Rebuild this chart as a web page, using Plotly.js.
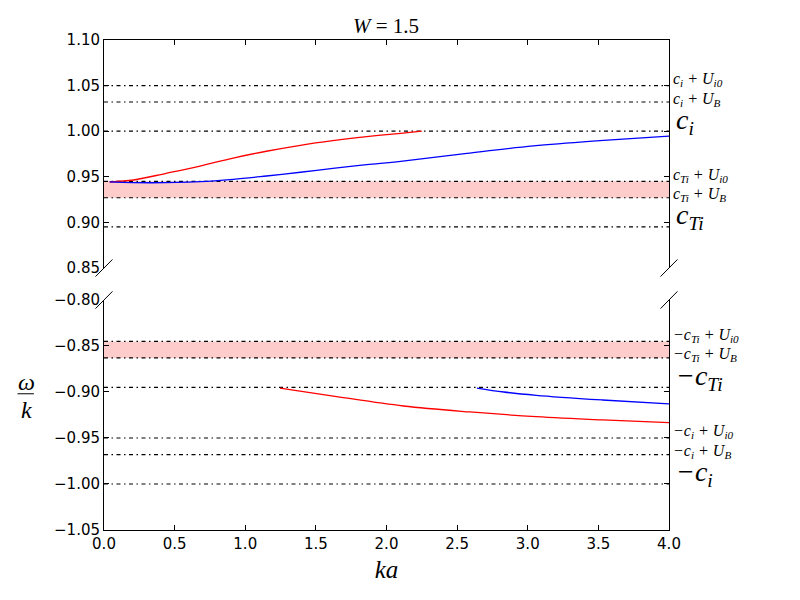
<!DOCTYPE html>
<html>
<head>
<meta charset="utf-8">
<script src="https://cdn.plot.ly/plotly-3.0.1.min.js"></script>
<style>html,body{margin:0;padding:0;background:#fff;}#chart{width:800px;height:600px;}</style>
</head>
<body>
<div id="chart"></div>
<script>
// Characteristic speeds
var ci = 1.0;
var cTi = 0.895;
var Ui0 = 0.05;
var UB = 0.032;
var kaRange = [0, 4];

// Top panel curves (positive branch)
var redTopKa = [0.04, 0.21, 0.44, 0.68, 0.915, 1.15, 1.39, 1.62, 1.86, 2.10, 2.25];
var redTopW  = [0.9443, 0.9465, 0.9538, 0.9618, 0.9706, 0.978, 0.9845, 0.9896, 0.994, 0.9977, 1.0];
var blueTopKa = [0.04, 0.33, 0.68, 0.915, 1.15, 1.39, 1.62, 1.86, 2.10, 2.57, 3.04, 3.51, 4.0];
var blueTopW  = [0.9445, 0.9435, 0.9446, 0.9472, 0.9509, 0.955, 0.9593, 0.9633, 0.967, 0.9757, 0.9838, 0.9896, 0.9947];

// Bottom panel curves (negative branch)
var redBotKa = [1.246, 1.647, 2.12, 2.59, 3.06, 3.53, 4.0];
var redBotW  = [-0.8957, -0.905, -0.9152, -0.9217, -0.9268, -0.9304, -0.9333];
var blueBotKa = [2.64, 2.83, 3.06, 3.53, 4.0];
var blueBotW  = [-0.8957, -0.9, -0.9036, -0.9087, -0.913];

// Reference line levels and labels
var topLevels = [ci + Ui0, ci + UB, ci, cTi + Ui0, cTi + UB, cTi];
var topLabels = ['c<sub>i</sub> + U<sub>i0</sub>', 'c<sub>i</sub> + U<sub>B</sub>', 'c<sub>i</sub>',
                 'c<sub>Ti</sub> + U<sub>i0</sub>', 'c<sub>Ti</sub> + U<sub>B</sub>', 'c<sub>Ti</sub>'];
var botLevels = [-cTi + Ui0, -cTi + UB, -cTi, -ci + Ui0, -ci + UB, -ci];
var botLabels = ['−c<sub>Ti</sub> + U<sub>i0</sub>', '−c<sub>Ti</sub> + U<sub>B</sub>', '−c<sub>Ti</sub>',
                 '−c<sub>i</sub> + U<sub>i0</sub>', '−c<sub>i</sub> + U<sub>B</sub>', '−c<sub>i</sub>'];
var bigLabel = [false, false, true, false, false, true];
var labelShift = [6, 3, 10, 6, 3, 10];

var mathFont = 'Liberation Serif, DejaVu Serif, serif';
var tickFont = {family: 'DejaVu Sans, sans-serif', size: 15, color: '#000'};
var dashPat = '4px,3.5px,1.5px,3.5px';

var traces = [];
// pink bands
traces.push({x: kaRange, y: [cTi + UB, cTi + UB], xaxis: 'x2', yaxis: 'y2', mode: 'lines',
  line: {width: 0, color: 'rgba(0,0,0,0)'}, hoverinfo: 'skip', showlegend: false});
traces.push({x: kaRange, y: [cTi + Ui0, cTi + Ui0], xaxis: 'x2', yaxis: 'y2', mode: 'lines', fill: 'tonexty',
  fillcolor: 'rgba(255,0,0,0.2)', line: {width: 0, color: 'rgba(0,0,0,0)'}, hoverinfo: 'skip', showlegend: false});
traces.push({x: kaRange, y: [-cTi + UB, -cTi + UB], xaxis: 'x', yaxis: 'y', mode: 'lines',
  line: {width: 0, color: 'rgba(0,0,0,0)'}, hoverinfo: 'skip', showlegend: false});
traces.push({x: kaRange, y: [-cTi + Ui0, -cTi + Ui0], xaxis: 'x', yaxis: 'y', mode: 'lines', fill: 'tonexty',
  fillcolor: 'rgba(255,0,0,0.2)', line: {width: 0, color: 'rgba(0,0,0,0)'}, hoverinfo: 'skip', showlegend: false});

// dash-dot reference lines
topLevels.forEach(function (v) {
  traces.push({x: kaRange, y: [v, v], xaxis: 'x2', yaxis: 'y2', mode: 'lines',
    line: {color: '#000', width: 1.2, dash: dashPat}, showlegend: false});
});
botLevels.forEach(function (v) {
  traces.push({x: kaRange, y: [v, v], xaxis: 'x', yaxis: 'y', mode: 'lines',
    line: {color: '#000', width: 1.2, dash: dashPat}, showlegend: false});
});

// curves
traces.push({x: redTopKa, y: redTopW, xaxis: 'x2', yaxis: 'y2', mode: 'lines', line: {color: '#ff0000', width: 1.3, shape: 'spline'}, showlegend: false});
traces.push({x: blueTopKa, y: blueTopW, xaxis: 'x2', yaxis: 'y2', mode: 'lines', line: {color: '#0000ff', width: 1.3, shape: 'spline'}, showlegend: false});
traces.push({x: redBotKa, y: redBotW, xaxis: 'x', yaxis: 'y', mode: 'lines', line: {color: '#ff0000', width: 1.3, shape: 'spline'}, showlegend: false});
traces.push({x: blueBotKa, y: blueBotW, xaxis: 'x', yaxis: 'y', mode: 'lines', line: {color: '#0000ff', width: 1.3, shape: 'spline'}, showlegend: false});

var annotations = [];
function addLabels(levels, labels, yref) {
  levels.forEach(function (v, i) {
    var big = bigLabel[i];
    var size = big ? 28 : 16;
    annotations.push({
      xref: 'paper', x: 1, xanchor: 'left', xshift: big ? 5 : 2,
      yref: yref, y: v, yanchor: 'middle', yshift: labelShift[i],
      text: '<i>' + labels[i] + '</i>', showarrow: false,
      font: {family: mathFont, size: size, color: '#000'}
    });
  });
}
addLabels(topLevels, topLabels, 'y2');
addLabels(botLevels, botLabels, 'y');

// y-axis fraction label
annotations.push({xref: 'paper', yref: 'paper', x: -0.138, y: 0.303, text: '<i>ω</i>', showarrow: false,
  font: {family: mathFont, size: 24, color: '#000'}, xanchor: 'center', yanchor: 'middle'});
annotations.push({xref: 'paper', yref: 'paper', x: -0.138, y: 0.245, text: '<i>k</i>', showarrow: false,
  font: {family: mathFont, size: 24, color: '#000'}, xanchor: 'center', yanchor: 'middle'});

var d = 0.015;
function brkShape(yref, x0, y0, x1, y1) {
  return {type: 'line', xref: 'x domain', yref: yref, x0: x0, y0: y0, x1: x1, y1: y1, line: {color: '#000', width: 1}};
}
var shapes = [
  brkShape('y2 domain', -d, -d * 2.5, d, d * 2.5),
  brkShape('y2 domain', 1 - d, -d * 2.5, 1 + d, d * 2.5),
  brkShape('y domain', -d, 1 - d * 2.5, d, 1 + d * 2.5),
  brkShape('y domain', 1 - d, 1 - d * 2.5, 1 + d, 1 + d * 2.5),
  {type: 'line', xref: 'paper', yref: 'paper', x0: -0.153, x1: -0.124, y0: 0.278, y1: 0.278, line: {color: '#000', width: 1}}
];

var axisCommon = {showline: true, linecolor: '#000', linewidth: 1, ticks: 'inside', ticklen: 5, tickcolor: '#000',
  showgrid: false, zeroline: false, tickfont: tickFont};

var layout = {
  width: 800, height: 600,
  margin: {l: 104, r: 131, t: 40, b: 70},
  paper_bgcolor: '#fff', plot_bgcolor: '#fff',
  showlegend: false,
  title: {text: '<i>W</i> = 1.5', x: 0.4825, xanchor: 'center', y: 0.957, yanchor: 'middle',
    font: {family: mathFont, size: 21, color: '#000'}},
  xaxis: Object.assign({}, axisCommon, {domain: [0, 1], anchor: 'y', range: kaRange, dtick: 0.5, tick0: 0,
    tickformat: '.1f', mirror: false,
    title: {text: '<i>ka</i>', font: {family: mathFont, size: 25, color: '#000'}, standoff: 8}}),
  xaxis2: Object.assign({}, axisCommon, {domain: [0, 1], anchor: 'y2', matches: 'x', range: kaRange, dtick: 0.5,
    side: 'top', showticklabels: false, mirror: false}),
  yaxis: Object.assign({}, axisCommon, {domain: [0, 0.4694], anchor: 'x', range: [-1.05, -0.80], dtick: 0.05, tick0: 0,
    tickformat: '.2f', mirror: 'ticks'}),
  yaxis2: Object.assign({}, axisCommon, {domain: [0.5347, 1], anchor: 'x2', range: [0.85, 1.10], dtick: 0.05, tick0: 0,
    tickformat: '.2f', mirror: 'ticks'}),
  annotations: annotations,
  shapes: shapes
};

Plotly.newPlot('chart', traces, layout, {staticPlot: true, displayModeBar: false});
</script>
</body>
</html>
